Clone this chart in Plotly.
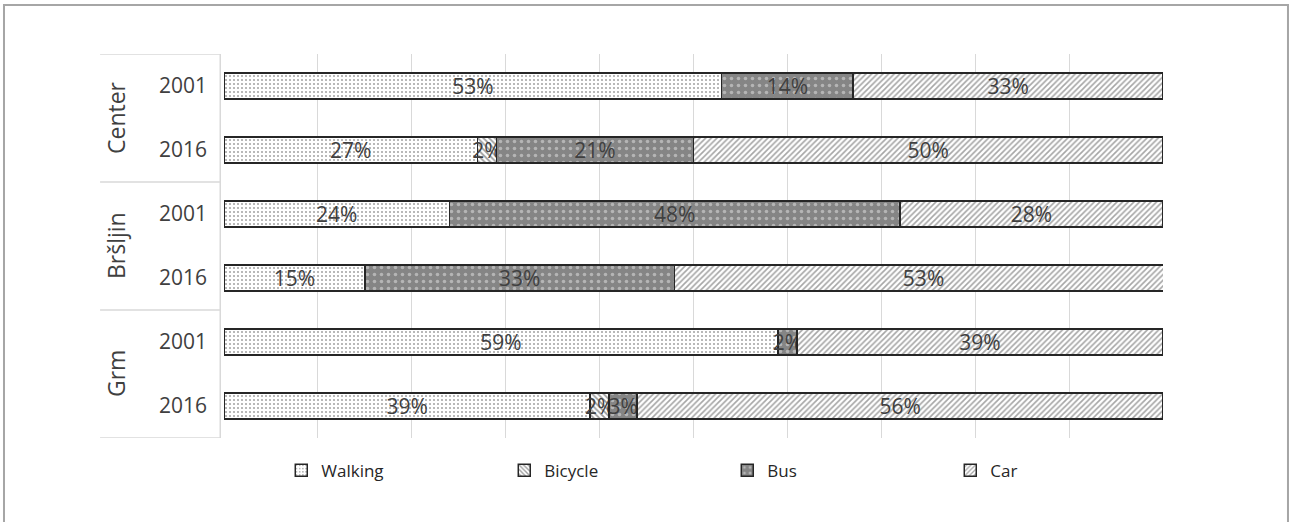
import plotly.graph_objects as go

groups = ["Center", "Center", "Bršljin", "Bršljin", "Grm", "Grm"]
years = ["2001", "2016", "2001", "2016", "2001", "2016"]
group_names = ["Center", "Bršljin", "Grm"]

walking = [53, 27, 24, 15, 59, 39]
bicycle = [0, 2, 0, 0, 0, 2]
bus = [14, 21, 48, 33, 2, 3]
car = [33, 50, 28, 53, 39, 56]

series = [
    ("Walking", walking, dict(shape=".", fgcolor="#4d4d4d", bgcolor="#ffffff", size=4, solidity=0.22)),
    ("Bicycle", bicycle, dict(shape="\\", fgcolor="#3a3a3a", bgcolor="#ffffff", size=4, solidity=0.45)),
    ("Bus", bus, dict(shape=".", fgcolor="#e6e6e6", bgcolor="#858585", size=7, solidity=0.2)),
    ("Car", car, dict(shape="/", fgcolor="#4d4d4d", bgcolor="#ffffff", size=4, solidity=0.4)),
]

FONT = "Open Sans"
TXT = "#404040"
rows = list(range(len(years)))

fig = go.Figure()
for name, vals, pat in series:
    fig.add_trace(go.Bar(
        name=name,
        y=rows,
        x=vals,
        orientation="h",
        width=0.4,
        marker=dict(color=pat["bgcolor"], pattern=pat,
                    line=dict(color="#262626", width=1.5)),
        text=[f"{v}%" if v else "" for v in vals],
        textposition="inside",
        insidetextanchor="middle",
        textangle=0,
        constraintext="none",
        textfont=dict(family=FONT, size=21, color=TXT),
        hoverinfo="skip",
    ))

shapes = []
# group dividers on the category axis
for yv in [-0.5, 1.5, 3.5, 5.5]:
    shapes.append(dict(type="line", xref="paper", yref="y", x0=-0.132, x1=-0.004,
                       y0=yv, y1=yv, line=dict(color="#d9d9d9", width=1.5), layer="below"))
# vertical axis line
shapes.append(dict(type="line", xref="paper", yref="y", x0=-0.004, x1=-0.004,
                   y0=-0.5, y1=5.5, line=dict(color="#d9d9d9", width=1.5), layer="below"))
# outer frame
shapes.append(dict(type="rect", xref="paper", yref="paper", x0=-0.2343, x1=1.1331,
                   y0=-0.3, y1=1.1276, line=dict(color="#a6a6a6", width=2), layer="below"))

annotations = []
for i, g in enumerate(group_names):
    idx = [k for k, gg in enumerate(groups) if gg == g]
    yc = sum(idx) / len(idx)
    annotations.append(dict(text=g, xref="paper", yref="y", x=-0.115, y=yc,
                            textangle=-90, showarrow=False,
                            font=dict(family=FONT, size=23, color=TXT),
                            xanchor="center", yanchor="middle"))

fig.update_layout(
    width=1290, height=522,
    margin=dict(l=224, r=127, t=54, b=84),
    paper_bgcolor="white", plot_bgcolor="white",
    barmode="stack",
    showlegend=True,
    legend=dict(orientation="h", x=0.061, y=-0.085, xanchor="left", yanchor="middle",
                entrywidth=178, entrywidthmode="pixels",
                font=dict(family=FONT, size=17, color="#262626"),
                traceorder="normal"),
    uniformtext=dict(minsize=21, mode="show"),
    xaxis=dict(range=[0, 100], dtick=10, showgrid=True, gridcolor="#d9d9d9", gridwidth=1,
               showticklabels=False, zeroline=False, showline=False, ticks=""),
    yaxis=dict(range=[5.5, -0.5], tickvals=rows, ticktext=years, showgrid=False,
               zeroline=False, showline=False, ticks="", ticklabelstandoff=16,
               tickfont=dict(family=FONT, size=21, color=TXT)),
    shapes=shapes,
    annotations=annotations,
    font=dict(family=FONT),
)

fig.write_html("out.html", config={"displayModeBar": False},
               post_script="document.body.style.margin='0px';")
